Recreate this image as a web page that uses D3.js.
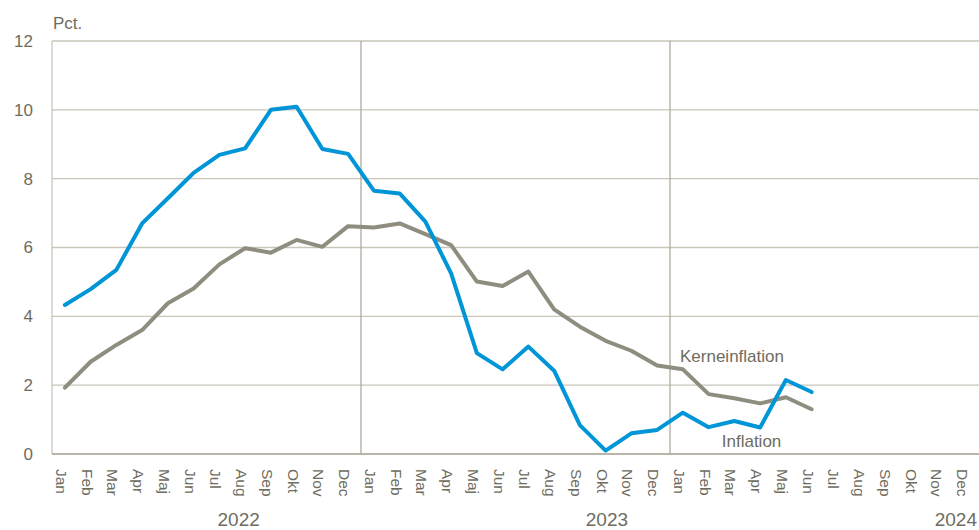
<!DOCTYPE html>
<html><head><meta charset="utf-8">
<script src="https://cdn.jsdelivr.net/npm/d3@7"></script>
<style>body{margin:0;background:#fff}svg{display:block;font-family:"Liberation Sans",Arial,sans-serif}</style>
</head><body><svg id="c" width="979" height="530"></svg>
<script>
const years = ["2022","2023","2024"];
const monthNames = ["Jan","Feb","Mar","Apr","Maj","Jun","Jul","Aug","Sep","Okt","Nov","Dec"];
const inflation = [4.33,4.79,5.35,6.70,7.43,8.17,8.69,8.88,10.0,10.09,8.86,8.72,
  7.65,7.57,6.75,5.25,2.93,2.46,3.12,2.42,0.84,0.10,0.60,0.70,
  1.20,0.78,0.96,0.77,2.15,1.80];
const kerneinflation = [1.93,2.68,3.17,3.60,4.38,4.81,5.51,5.98,5.85,6.22,6.02,6.62,
  6.58,6.70,6.39,6.07,5.01,4.88,5.30,4.20,3.70,3.29,3.00,2.57,
  2.46,1.74,1.62,1.47,1.65,1.30];
const yTicks = [0,2,4,6,8,10,12];

const categories = [];
years.forEach(y => monthNames.forEach(m => categories.push(m + " " + y)));

const svg = d3.select("#c");
const L = 52, R = 979, T = 41, B = 454;
const x = d3.scaleBand().domain(categories).range([L, R]).padding(0);
const y = d3.scaleLinear().domain([0, 12]).range([B, T]);
const cx = d => x(d) + x.bandwidth() / 2;
const textCol = "#6e6c5e";

// horizontal gridlines
svg.append("g").selectAll("line").data(yTicks).join("line")
  .attr("x1", L).attr("x2", R).attr("y1", d => y(d)).attr("y2", d => y(d))
  .attr("stroke", "#c9c6b9").attr("stroke-width", 1.3);
// year separators
svg.append("g").selectAll("line").data(years.slice(1)).join("line")
  .attr("x1", d => x("Jan " + d)).attr("x2", d => x("Jan " + d))
  .attr("y1", T).attr("y2", B).attr("stroke", "#aeab9d").attr("stroke-width", 1.3);
// left axis line
svg.append("line").attr("x1", L).attr("x2", L).attr("y1", T).attr("y2", B)
  .attr("stroke", "#c9c6b9").attr("stroke-width", 1.3);
// bottom axis line
svg.append("line").attr("x1", L).attr("x2", R).attr("y1", B).attr("y2", B)
  .attr("stroke", "#aeab9d").attr("stroke-width", 1.3);

// y tick labels
svg.append("g").selectAll("text").data(yTicks).join("text")
  .attr("x", 33).attr("y", d => y(d)).attr("dy", "0.35em")
  .attr("text-anchor", "end").attr("font-size", 17).attr("fill", textCol)
  .text(d => d);
svg.append("text").attr("x", 53).attr("y", 29).attr("font-size", 17)
  .attr("fill", textCol).text("Pct.");

// month labels
svg.append("g").selectAll("text").data(categories).join("text")
  .attr("transform", d => `translate(${cx(d) - 9},469) rotate(90)`)
  .attr("font-size", 15.5).attr("fill", textCol)
  .text(d => d.split(" ")[0]);

// year labels
const yearPos = [{y:"2022", m:"Aug 2022", off:-0.25, anchor:"middle"},
                 {y:"2023", m:"Okt 2023", off:0.05, anchor:"middle"},
                 {y:"2024", m:"Dec 2024", off:0.5, anchor:"end"}];
svg.append("g").selectAll("text").data(yearPos).join("text")
  .attr("x", d => d.anchor === "end" ? x.range()[1] - 2 : cx(d.m) + d.off * x.bandwidth())
  .attr("y", 526).attr("text-anchor", d => d.anchor)
  .attr("font-size", 19).attr("fill", textCol)
  .text(d => d.y);

// lines
const line = d3.line().x((d, i) => cx(categories[i])).y(d => y(d));
svg.append("path").datum(kerneinflation).attr("d", line)
  .attr("fill", "none").attr("stroke", "#8f8d7f").attr("stroke-width", 4)
  .attr("stroke-linejoin", "round").attr("stroke-linecap", "round");
svg.append("path").datum(inflation).attr("d", line)
  .attr("fill", "none").attr("stroke", "#0095d6").attr("stroke-width", 4)
  .attr("stroke-linejoin", "round").attr("stroke-linecap", "round");

// series labels
svg.append("text").attr("x", x("Jan 2024") + 10).attr("y", y(kerneinflation[24]) - 7)
  .attr("font-size", 17).attr("fill", textCol).text("Kerneinflation");
svg.append("text").attr("x", x("Feb 2024") + 26).attr("y", 447)
  .attr("font-size", 17).attr("fill", textCol).text("Inflation");
</script></body></html>
